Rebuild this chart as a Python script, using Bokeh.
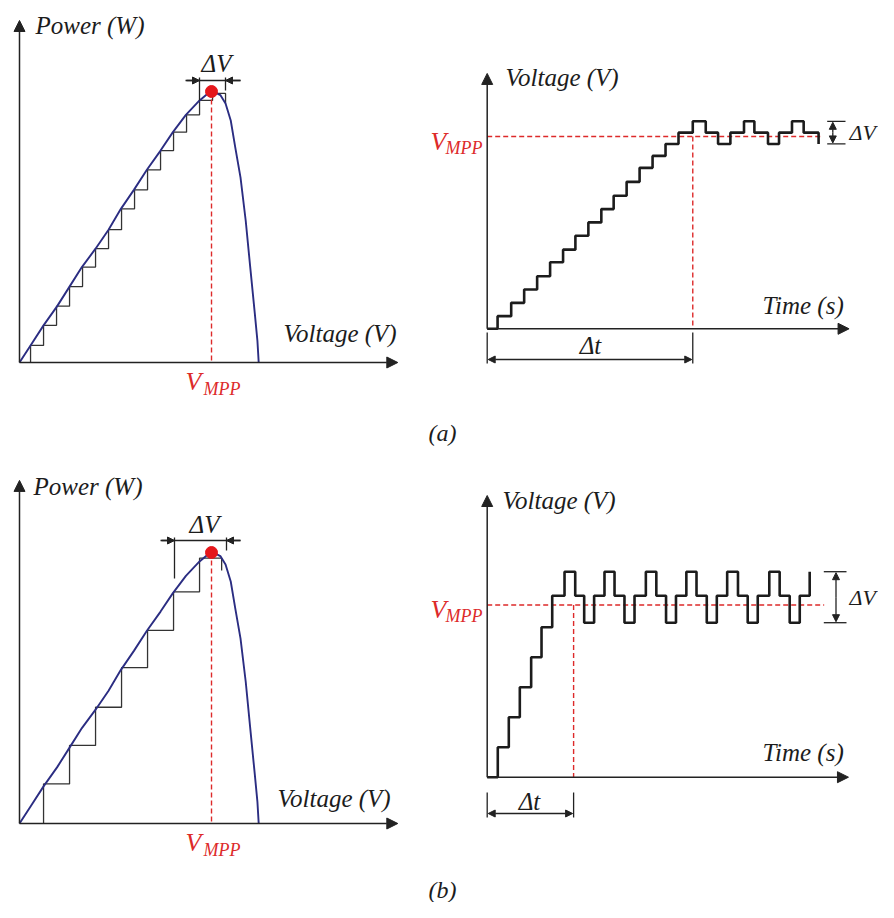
from bokeh.plotting import figure
from bokeh.models import Range1d, Arrow, NormalHead
from bokeh.core.properties import value
from bokeh.embed import file_html
from bokeh.resources import INLINE

# ---------------- data ----------------
# P-V curve of the PV array (voltage in step units, power in W)
pv_voltage = [0.0, 0.85, 1.85, 2.9, 3.85, 4.8, 5.85, 6.85, 7.8, 8.8, 9.8, 10.85, 11.8, 12.8,
              13.85, 14.4, 14.75, 15.15, 15.45, 15.85, 16.25, 16.6, 17.0, 17.4, 17.75, 18.1, 18.3, 18.4]
pv_power = [0.0, 6.3, 13.7, 20.8, 28.0, 35.2, 42.0, 49.0, 56.7, 63.7, 71.1, 78.2, 85.0, 91.4,
            96.7, 98.9, 100.0, 99.4, 98.7, 95.6, 89.3, 79.3, 68.3, 52.4, 35.1, 18.1, 8.1, 0.0]
v_mpp_left = 14.77
p_mpp = 100.0

# (a) small step: operating points on the P-V curve
stair_a_volt = [0.85, 1.85, 2.85, 3.85, 4.85, 5.85, 6.85, 7.85, 8.85, 9.85, 10.85, 11.85, 12.85, 13.85, 14.85]
stair_a_pow = [6.3, 13.7, 20.8, 28.0, 35.2, 42.0, 49.0, 56.7, 63.7, 71.1, 78.2, 85.0, 91.4, 96.7, 99.3]
stair_a_end = [15.85, 95.6]

# (b) large step
stair_b_volt = [1.85, 3.85, 5.85, 7.85, 9.85, 11.85, 13.85]
stair_b_pow = [14.6, 28.8, 42.9, 57.5, 71.3, 85.5, 97.9]
stair_b_end = [15.55, 93.4]

# (a) voltage vs time
time_a = [0, 0.8, 1.85, 2.85, 3.85, 4.85, 5.85, 6.8, 7.8, 8.8, 9.75, 10.75, 11.75, 12.75, 13.75,
          14.75, 15.85, 16.85, 17.8, 18.75, 19.8, 20.6, 21.65, 22.5, 23.5, 24.4, 25.55]
volt_a = [0, 0.95, 1.95, 2.95, 3.95, 5.0, 5.95, 7.0, 8.0, 9.0, 10.0, 11.05, 12.1, 13.0, 13.9,
          14.75, 15.6, 14.75, 13.9, 14.75, 15.6, 14.75, 13.9, 14.75, 15.6, 14.75, 13.9]
vmpp_a = 14.46
dt_a = 15.85

# (b) voltage vs time
time_b = [0, 0.98, 2.0, 3.02, 4.07, 5.03, 6.02, 7.16, 8.15, 8.98, 9.9, 10.86, 11.79, 12.71, 13.64,
          14.69, 15.66, 16.56, 17.48, 18.44, 19.38, 20.33, 21.26, 22.22, 23.22, 24.12, 25.05,
          26.12, 27.08, 28.01, 28.94, 29.86]
volt_b = [0, 1, 2, 3, 4, 5, 6.05, 6.85, 6.05, 5.15, 6.05, 6.85, 6.05, 5.15, 6.05,
          6.85, 6.05, 5.15, 6.05, 6.85, 6.05, 5.15, 6.05, 6.85, 6.05, 5.15, 6.05,
          6.85, 6.05, 5.15, 6.05, 6.85]
vmpp_b = 5.74
dt_b = 8.0

# ---------------- layout of the four panels (pixel origin and scale) ----------------
PANELS = {
    "a_left": dict(ox=19, oy=362, sx=13.0, sy=2.71, xmax=29.1, ymax=126.2),
    "b_left": dict(ox=19, oy=823, sx=13.0, sy=2.71, xmax=29.1, ymax=126.6),
    "a_right": dict(ox=486.7, oy=328.3, sx=12.97, sy=13.3, xmax=27.9, ymax=19.2),
    "b_right": dict(ox=486.7, oy=776.7, sx=10.8, sy=30.0, xmax=33.45, ymax=9.39),
}

def tx(pn, xs):
    p_ = PANELS[pn]
    return [p_["ox"] + x * p_["sx"] for x in xs]

def ty(pn, ys):
    p_ = PANELS[pn]
    return [p_["oy"] - y * p_["sy"] for y in ys]

BLACK = "#1c1c1c"
AXIS = "#222222"
RED = "#dd2a2a"
DOT = "#e5171b"
BLUE = "#2b2d82"
FONT = "Liberation Serif"

p = figure(width=878, height=902, x_range=Range1d(0, 878), y_range=Range1d(902, 0),
           output_backend="svg", toolbar_location=None, min_border=0,
           x_axis_type=None, y_axis_type=None)
p.outline_line_color = None
p.background_fill_color = "white"
p.border_fill_color = "white"


def head(size=11):
    return NormalHead(size=size, fill_color=AXIS, line_color=AXIS, line_width=1)


def arrow(x0, y0, x1, y1, size=11, both=False, width=1.5):
    p.add_layout(Arrow(start=head(size) if both else None, end=head(size),
                       x_start=x0, y_start=y0, x_end=x1, y_end=y1,
                       line_color=AXIS, line_width=width))


def seg(xs, ys, color=AXIS, width=1.3, dash="solid"):
    p.line(xs, ys, line_color=color, line_width=width, line_dash=dash)


def label(x, y, s, size="25px", color=BLACK, align="left", baseline="middle"):
    p.text(x=[x], y=[y], text=[s], text_font=value(FONT), text_font_style="italic",
           text_font_size=size, text_color=color, text_align=align, text_baseline=baseline)


def axes(pn):
    P = PANELS[pn]
    x0, y0 = tx(pn, [0])[0], ty(pn, [0])[0]
    arrow(x0, y0, tx(pn, [P["xmax"]])[0], y0)
    arrow(x0, y0, x0, ty(pn, [P["ymax"]])[0])


def stair_path(vs, ps, end):
    xs, ys = [vs[0]], [0.0]
    for i, (v, pw) in enumerate(zip(vs, ps)):
        if i > 0:
            xs.append(v)
            ys.append(ps[i - 1])
        xs.append(v)
        ys.append(pw)
    xs += [end[0], end[0]]
    ys += [ps[-1], end[1]]
    return xs, ys


# ---------------- left panels: P-V curve ----------------
for pn, sv, sp, se, top in (("a_left", stair_a_volt, stair_a_pow, stair_a_end, 0),
                            ("b_left", stair_b_volt, stair_b_pow, stair_b_end, 461)):
    axes(pn)
    sx_, sy_ = stair_path(sv, sp, se)
    p.line(tx(pn, sx_), ty(pn, sy_), line_color="#333333", line_width=1.3)
    p.line(tx(pn, pv_voltage), ty(pn, pv_power), line_color=BLUE, line_width=1.9)
    xm = tx(pn, [v_mpp_left])[0]
    seg([xm, xm], ty(pn, [p_mpp, 0]), color=RED, width=1.4, dash="5 3")
    p.scatter(x=[xm], y=ty(pn, [p_mpp]), size=12, color=DOT)
    label(35 if pn == "a_left" else 33, 25 + top, "Power (W)")
    label(283 if pn == "a_left" else 277, 333 + top + (4 if pn == "b_left" else 0), "Voltage (V)")
    label(185, 381 + top, "V", size="26px", color=RED, baseline="alphabetic")
    label(203, 388 + top, "MPP", size="18px", color=RED, baseline="alphabetic")

# ΔV bracket (a) left
seg([199, 199], [77, 100], color=AXIS, width=1.3)
seg([225, 225], [77, 90], color=AXIS, width=1.3)
seg([185, 240], [80, 80], color=AXIS, width=1.3)
arrow(186, 80, 199, 80, size=7)
arrow(240, 80, 225, 80, size=7)
label(216, 63, "ΔV", align="center")

# ΔV bracket (b) left
seg([174, 174], [537, 578], color=AXIS, width=1.3)
seg([226, 226], [537, 550], color=AXIS, width=1.3)
seg([160, 240], [540, 540], color=AXIS, width=1.3)
arrow(161, 540, 174, 540, size=7)
arrow(240, 540, 226, 540, size=7)
label(204, 524, "ΔV", align="center")

# ---------------- right panels: voltage vs time ----------------
for pn, tt, vv, vm, dt, top, hend, dv in (
        ("a_right", time_a, volt_a, vmpp_a, dt_a, 0, 25.7, (15.6, 13.9)),
        ("b_right", time_b, volt_b, vmpp_b, dt_b, 1, 31.2, (6.85, 5.15))):
    axes(pn)
    ym = ty(pn, [vm])[0]
    xd = tx(pn, [dt])[0]
    x0 = tx(pn, [0])[0]
    y0 = ty(pn, [0])[0]
    seg(tx(pn, [0, hend]), [ym, ym], color=RED, width=1.4, dash="5 3")
    seg([xd, xd], [ym, y0], color=RED, width=1.4, dash="5 3")
    p.step(tx(pn, tt), ty(pn, vv), mode="after", line_color=BLACK, line_width=2.6)
    # Δt bracket
    if pn == "a_right":
        yb0, yb1, ya = 332, 363, 359
        label(590, 345, "Δt", align="center")
        label(505, 77, "Voltage (V)")
        label(762, 305, "Time (s)")
        label(446, 141, "V", size="26px", color=RED, align="right", baseline="alphabetic")
        label(482, 147, "MPP", size="18px", color=RED, align="right", baseline="alphabetic")
        xt0, xt1, xa, xl = 826.7, 845.0, 832.3, 849
    else:
        yb0, yb1, ya = 792, 817, 813
        label(529, 801, "Δt", align="center")
        label(502, 500, "Voltage (V)")
        label(762, 752, "Time (s)")
        label(446, 609, "V", size="26px", color=RED, align="right", baseline="alphabetic")
        label(482, 615, "MPP", size="18px", color=RED, align="right", baseline="alphabetic")
        xt0, xt1, xa, xl = 823.3, 846.0, 835.5, 849
    seg([x0, x0], [yb0, yb1], color=AXIS, width=1.3)
    seg([xd, xd], [yb0, yb1], color=AXIS, width=1.3)
    arrow(x0 + 1, ya, xd - 1, ya, size=7, both=True, width=1.3)
    # ΔV bracket
    yt, yb = ty(pn, list(dv))
    seg([xt0, xt1], [yt, yt], color=AXIS, width=1.3)
    seg([xt0, xt1], [yb, yb], color=AXIS, width=1.3)
    arrow(xa, (yt + yb) / 2, xa, yt + 1, size=7, width=1.3)
    arrow(xa, (yt + yb) / 2, xa, yb - 1, size=7, width=1.3)
    label(xl, (yt + yb) / 2, "ΔV", size="22px")

# captions
label(442, 432, "(a)", size="24px", align="center")
label(442, 889, "(b)", size="24px", align="center")

open("out.html", "w").write(file_html(p, INLINE))
